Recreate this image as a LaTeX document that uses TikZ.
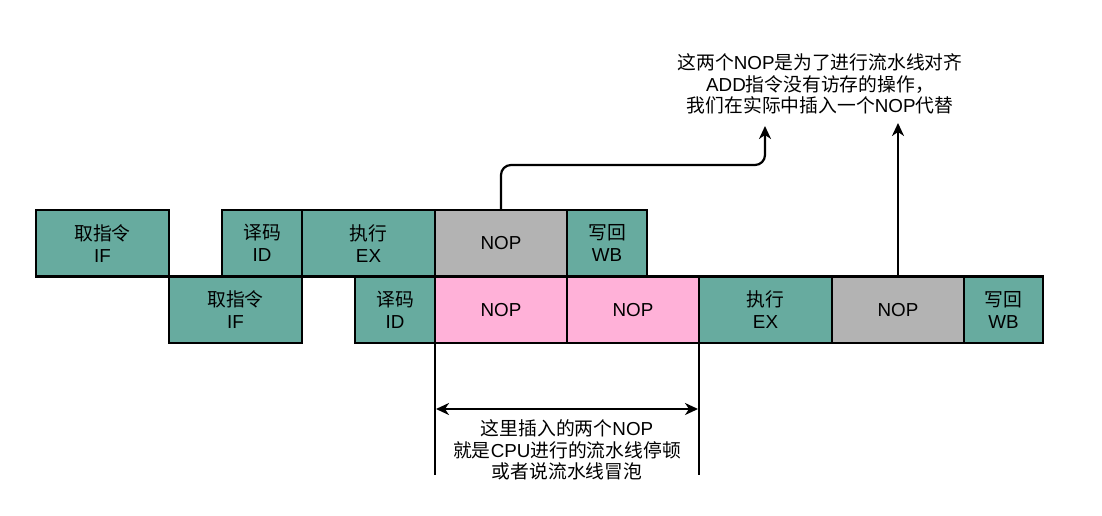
\documentclass[tikz,border=0pt]{standalone}
\usepackage{fontspec}
\setmainfont{Liberation Sans}
\newfontfamily\cjk{Noto Sans CJK SC}
\usetikzlibrary{arrows.meta}
\definecolor{stageteal}{HTML}{67AB9F}
\definecolor{nopgray}{HTML}{B3B3B3}
\definecolor{noppink}{HTML}{FFB1D8}
\tikzset{
  stagebox/.style={draw=black, line width=2.5pt, inner sep=0pt, outer sep=0pt, anchor=north west,
    minimum height=66.5pt, align=center, font=\fontsize{18.8}{22}\selectfont},
  tealbox/.style={stagebox, fill=stageteal},
  graybox/.style={stagebox, fill=nopgray},
  pinkbox/.style={stagebox, fill=noppink},
  conn/.style={line width=2.2pt, draw=black},
  tip/.style={-{Stealth[length=13pt,width=12pt,inset=4pt]}},
  note/.style={align=center, font=\fontsize{18.8}{21.5}\selectfont}
}
\begin{document}
\begin{tikzpicture}[x=1pt,y=-1pt]
\useasboundingbox (0,0) rectangle (1102,515);
% row 1
\node[tealbox, minimum width=133pt] (if1) at (36,210) {{\cjk 取指令}\\IF};
\node[tealbox, minimum width=80pt] (id1) at (222,210) {{\cjk 译码}\\ID};
\node[tealbox, minimum width=133pt] (ex1) at (302,210) {{\cjk 执行}\\EX};
\node[graybox, minimum width=132pt] (nop1) at (435,210) {NOP};
\node[tealbox, minimum width=80pt] (wb1) at (567,210) {{\cjk 写回}\\WB};
% row 2
\node[tealbox, minimum width=133pt] (if2) at (169,276.5) {{\cjk 取指令}\\IF};
\node[tealbox, minimum width=80pt] (id2) at (355,276.5) {{\cjk 译码}\\ID};
\node[pinkbox, minimum width=132pt] (pinka) at (435,276.5) {NOP};
\node[pinkbox, minimum width=132pt] (pinkb) at (567,276.5) {NOP};
\node[tealbox, minimum width=133pt] (ex2) at (699,276.5) {{\cjk 执行}\\EX};
\node[graybox, minimum width=132pt] (nop3) at (832,276.5) {NOP};
\node[tealbox, minimum width=79pt] (wb2) at (964,276.5) {{\cjk 写回}\\WB};
% top note
\node[note] (topnote) at (820,84) {{\cjk 这两个}NOP{\cjk 是为了进行流水线对齐}\\ADD{\cjk 指令没有访存的操作，}\\{\cjk 我们在实际中插入一个}NOP{\cjk 代替}};
\coordinate (t1) at (765,126);
\coordinate (t2) at (898,123);
\draw[conn, tip, rounded corners=10pt] (nop1.north) -- (nop1.north |- 0,165) -| (t1);
\draw[conn, tip] (nop3.north) -- (t2);
% bottom bracket
\coordinate (b1) at (435,475);
\coordinate (b2) at (699,475);
\draw[line width=1.4pt] (pinka.south west) -- (b1);
\draw[line width=1.4pt] (pinkb.south east) -- (b2);
\coordinate (a1) at (436,409);
\coordinate (a2) at (698,409);
\draw[conn, {Stealth[length=13pt,width=12pt,inset=4pt]}-{Stealth[length=13pt,width=12pt,inset=4pt]}] (a1) -- (a2);
\node[note] (botnote) at (567,450) {{\cjk 这里插入的两个}NOP\\{\cjk 就是}CPU{\cjk 进行的流水线停顿}\\{\cjk 或者说流水线冒泡}};
\end{tikzpicture}
\end{document}
